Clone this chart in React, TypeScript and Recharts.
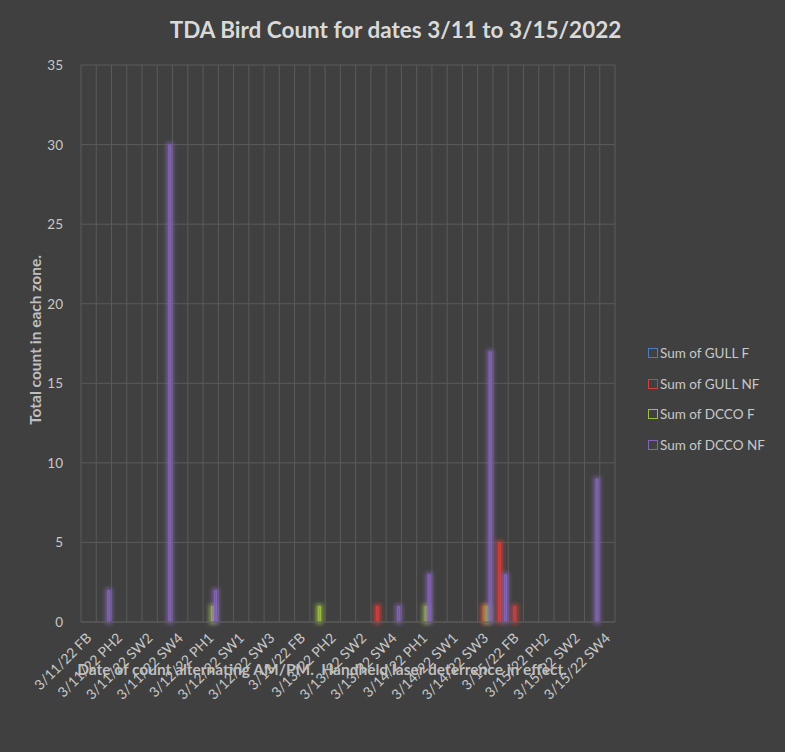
import { Bar, BarChart, CartesianGrid, XAxis, YAxis } from "recharts"

const zones = ["FB", "PH1", "PH2", "SW1", "SW2", "SW3", "SW4"]
const dates = ["3/11/22", "3/12/22", "3/13/22", "3/14/22", "3/15/22"]

// counts per category, in order of dates x zones
const gullF = [
  0, 0, 0, 0, 0, 0, 0,
  0, 0, 0, 0, 0, 0, 0,
  0, 0, 0, 0, 0, 0, 0,
  0, 0, 0, 0, 0, 0, 0,
  0, 0, 0, 0, 0, 0, 0,
]
const gullNF = [
  0, 0, 0, 0, 0, 0, 0,
  0, 0, 0, 0, 0, 0, 0,
  0, 0, 0, 0, 0, 1, 0,
  0, 0, 0, 0, 0, 1, 5,
  1, 0, 0, 0, 0, 0, 0,
]
const dccoF = [
  0, 0, 0, 0, 0, 0, 0,
  0, 1, 0, 0, 0, 0, 0,
  0, 1, 0, 0, 0, 0, 0,
  0, 1, 0, 0, 0, 1, 0,
  0, 0, 0, 0, 0, 0, 0,
]
const dccoNF = [
  0, 2, 0, 0, 0, 30, 0,
  0, 2, 0, 0, 0, 0, 0,
  0, 0, 0, 0, 0, 0, 1,
  0, 3, 0, 0, 0, 17, 3,
  0, 0, 0, 0, 0, 9, 0,
]
const yTicks = [0, 5, 10, 15, 20, 25, 30, 35]

const series = [
  { key: "gullF", name: "Sum of GULL F", color: "#4a7cc4" },
  { key: "gullNF", name: "Sum of GULL NF", color: "#d0403c" },
  { key: "dccoF", name: "Sum of DCCO F", color: "#9cc043" },
  { key: "dccoNF", name: "Sum of DCCO NF", color: "#8565b8" },
]

const categories = dates.flatMap((d) => zones.map((z) => `${d} ${z}`))
const data = categories.map((name, i) => ({
  name,
  gullF: gullF[i],
  gullNF: gullNF[i],
  dccoF: dccoF[i],
  dccoNF: dccoNF[i],
}))

const font = "Lato, 'Open Sans', sans-serif"
const bg = "#404040"
const text = "#c8c8c8"

const GlowBar = (props: any) => {
  const { x, y, width, height, fill } = props
  if (!height || height <= 0) return null
  return (
    <g>
      <rect x={x - 2} y={y - 2} width={width + 4} height={height + 4} fill={fill} opacity={0.75} filter="url(#glow)" />
      <rect x={x + 0.5} y={y + 0.5} width={Math.max(width - 1, 0.5)} height={Math.max(height - 1, 0.5)}
        fill={fill} fillOpacity={0.35} stroke={fill} strokeWidth={1} />
    </g>
  )
}

const Tick = ({ x, y, payload }: any) => (
  <text x={x} y={y + 5} transform={`rotate(-45 ${x} ${y + 5})`} textAnchor="end"
    dominantBaseline="central" fill={text} fontSize={14} fontFamily={font}>
    {payload.value}
  </text>
)

const YTick = ({ x, y, payload }: any) => (
  <text x={x - 10} y={y} textAnchor="end" dominantBaseline="central" fill={text} fontSize={13.5} fontFamily={font}>
    {payload.value}
  </text>
)

const gridX = ({ offset }: any) =>
  categories.map((_, i) => offset.left + (i * offset.width) / categories.length).concat(offset.left + offset.width)

export default function App() {
  return (
    <div style={{ position: "absolute", left: 0, top: 0, width: 785, height: 752, background: bg }}>
      <svg width={0} height={0} style={{ position: "absolute" }}>
        <defs>
          <filter id="glow" x="-300%" y="-30%" width="700%" height="160%">
            <feGaussianBlur stdDeviation="2.2" />
          </filter>
        </defs>
      </svg>
      <div style={{ position: "absolute", top: 16, width: 785, textAlign: "center", paddingLeft: 3,
        fontFamily: font, fontWeight: 700, fontSize: 22.5, color: "#d9d9d9" }}>
        TDA Bird Count for dates 3/11 to 3/15/2022
      </div>
      <BarChart width={785} height={752} data={data} barSize={3} barGap={0}
        margin={{ top: 65, right: 170, left: 0, bottom: 0 }}>
        <CartesianGrid stroke="#5a5a5a" vertical horizontal verticalCoordinatesGenerator={gridX} />
        <XAxis dataKey="name" interval={1} height={130} tick={<Tick />} tickLine={false}
          axisLine={{ stroke: "#5a5a5a" }} />
        <YAxis domain={[0, 35]} ticks={yTicks} width={81} tickLine={false} axisLine={false}
          tick={<YTick />} />
        {series.map((s) => (
          <Bar key={s.key} dataKey={s.key} name={s.name} fill={s.color} shape={<GlowBar />}
            isAnimationActive={false} />
        ))}
      </BarChart>
      <div style={{ position: "absolute", left: 648, top: 338, fontFamily: font, fontSize: 13.5, color: text }}>
        {series.map((s) => (
          <div key={s.key} style={{ display: "flex", alignItems: "center", height: 30.5 }}>
            <span style={{ width: 8, height: 8, border: `1.5px solid ${s.color}`, marginRight: 2 }} />
            {s.name}
          </div>
        ))}
      </div>
      <div style={{ position: "absolute", left: 35, top: 340, transform: "translate(-50%, -50%) rotate(-90deg)",
        whiteSpace: "nowrap", fontFamily: font, fontWeight: 700, fontSize: 15.5, color: "#bfbfbf" }}>
        Total count in each zone.
      </div>
      <div style={{ position: "absolute", left: 322, top: 669, transform: "translate(-50%, -50%)",
        whiteSpace: "nowrap", fontFamily: font, fontWeight: 700, fontSize: 15.5, color: "#bfbfbf" }}>
        Date of count alternating AM/PM.&nbsp; Handheld laser deterrence in effect.
      </div>
    </div>
  )
}
